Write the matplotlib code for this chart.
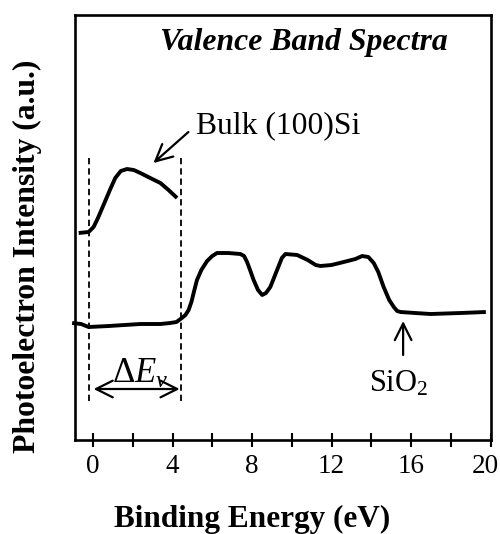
import numpy as np
import matplotlib
matplotlib.use('Agg')
import matplotlib.pyplot as plt
import matplotlib.transforms as mtransforms

plt.rcParams['font.family'] = ['Liberation Serif', 'DejaVu Serif']
plt.rcParams['mathtext.fontset'] = 'custom'
plt.rcParams['mathtext.rm'] = 'Liberation Serif'
plt.rcParams['mathtext.it'] = 'Liberation Serif:italic'

# SiO2 valence band spectrum (binding energy in eV, intensity in a.u.)
sio2_energy = [-1.05, -0.6, -0.22, 0.8, 2.38, 3.4, 3.88, 4.2, 4.47, 4.65, 4.81, 4.95,
               5.1, 5.23, 5.45, 5.74, 6.0, 6.24, 6.8, 7.41, 7.6, 7.75, 7.9, 8.08,
               8.3, 8.51, 8.7, 8.92, 9.1, 9.34, 9.5, 9.68, 10.27, 10.8, 11.2, 11.44,
               12.0, 12.61, 13.2, 13.54, 13.85, 14.12, 14.35, 14.62, 14.9, 15.13,
               15.3, 15.47, 16.2, 16.98, 18.5, 19.76]
sio2_intensity = [1.17, 1.16, 1.13, 1.14, 1.16, 1.16, 1.17, 1.18, 1.22, 1.25, 1.30, 1.38,
                  1.50, 1.60, 1.70, 1.79, 1.84, 1.87, 1.87, 1.86, 1.84, 1.78, 1.70, 1.60,
                  1.50, 1.45, 1.47, 1.53, 1.62, 1.74, 1.82, 1.86, 1.85, 1.80, 1.75, 1.74,
                  1.75, 1.78, 1.81, 1.84, 1.83, 1.77, 1.68, 1.53, 1.40, 1.33,
                  1.29, 1.28, 1.27, 1.26, 1.27, 1.28]

# bulk (100)Si valence band spectrum
bulk_energy = [-0.72, -0.22, 0.03, 0.25, 0.53, 0.85, 1.12, 1.4, 1.71, 2.05, 2.38, 2.88, 3.39, 3.8, 4.23]
bulk_intensity = [2.07, 2.08, 2.13, 2.22, 2.35, 2.50, 2.62, 2.69, 2.71, 2.70, 2.67, 2.62, 2.57, 2.50, 2.42]

# valence band edges (eV) marking Delta Ev
edges = [-0.2, 4.45]

xticks = [0, 2, 4, 6, 8, 10, 12, 14, 16, 18, 20]
xticklabels = ['0', '', '4', '', '8', '', '12', '', '16', '', '20']

fig = plt.figure(figsize=(5, 5.34), dpi=100)
ax = fig.add_axes([74.7 / 500, 1 - 440 / 534, (491 - 74.7) / 500, (440 - 15) / 534])

ax.plot(sio2_energy, sio2_intensity, color='black', lw=2.8, clip_on=False,
        solid_capstyle='butt', solid_joinstyle='round')
ax.plot(bulk_energy, bulk_intensity, color='black', lw=2.8,
        solid_capstyle='butt', solid_joinstyle='round')

for e in edges:
    ax.plot([e, e], [0.39, 2.83], color='black', lw=1.3, ls=(0, (3.5, 2.2)))

# Delta Ev double arrow
ax.annotate('', xy=(0.03, 0.51), xytext=(4.36, 0.51),
            arrowprops=dict(arrowstyle='<->', lw=1.6, color='black',
                            mutation_scale=30, shrinkA=0, shrinkB=0))
ax.text(2.38, 0.57, r'$\mathit{\Delta E}_{\mathit{v}}$', fontsize=25, ha='center', va='baseline')

# SiO2 arrow and label
ax.annotate('', xy=(15.6, 1.19), xytext=(15.6, 0.85),
            arrowprops=dict(arrowstyle='->', lw=1.6, color='black',
                            mutation_scale=30, shrinkA=0, shrinkB=0))
ax.text(15.4, 0.48, r'SiO$_2$', fontsize=22, ha='center', va='baseline')

# Bulk arrow and label
ax.annotate('', xy=(3.04, 2.77), xytext=(4.8, 3.08),
            arrowprops=dict(arrowstyle='->', lw=1.6, color='black',
                            mutation_scale=30, shrinkA=0, shrinkB=0))
ax.text(5.16, 3.07, 'Bulk (100)Si', fontsize=22.8, ha='left', va='baseline')

ax.set_xlim(-0.92, 20.02)
ax.set_ylim(0, 4.25)
ax.set_xticks(xticks)
ax.set_xticklabels(xticklabels, fontsize=19.5)
ax.set_yticks([])
ax.tick_params(axis='x', direction='inout', length=10, width=1.5, pad=5)
for s in ax.spines.values():
    s.set_linewidth(1.9)

# last label sits a little left so it stays inside the figure
last = ax.get_xticklabels()[-1]
last.set_transform(last.get_transform() + mtransforms.ScaledTranslation(-5 / 100, 0, fig.dpi_scale_trans))

fig.text(160 / 500, 1 - 50 / 534, 'Valence Band Spectra', fontsize=22.9,
         fontweight='bold', fontstyle='italic', ha='left', va='baseline')
fig.text(252.5 / 500, 1 - 527 / 534, 'Binding Energy (eV)', fontsize=22.5,
         fontweight='bold', ha='center', va='baseline')
fig.text(35 / 500, 1 - 256.5 / 534, 'Photoelectron Intensity (a.u.)', fontsize=22.8,
         fontweight='bold', rotation=90, rotation_mode='anchor',
         ha='center', va='baseline')

fig.savefig('out.png', dpi=100)
